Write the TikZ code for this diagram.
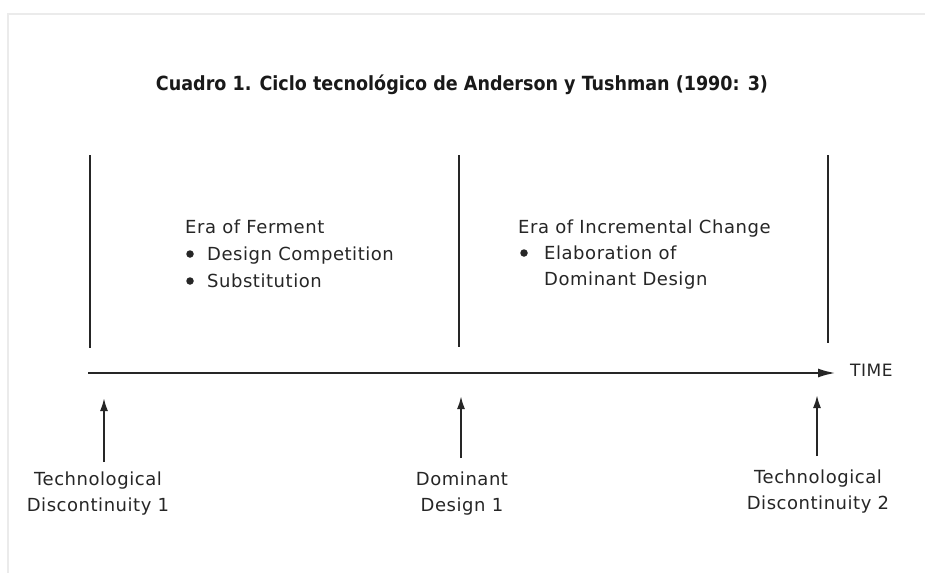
\documentclass[tikz,border=0pt]{standalone}
\usepackage{fontspec}
\setmainfont{DejaVu Sans}[LetterSpace=3]
\newfontfamily\titlefont{DejaVu Sans Condensed}
\usetikzlibrary{arrows.meta}
\begin{document}
\begin{tikzpicture}[x=1pt,y=-1pt,
  lbl/.style={font=\fontsize{18}{26}\selectfont, text=black!85, inner sep=0pt},
  bulletdot/.style={circle, fill=black!85, inner sep=0pt, minimum size=7.5pt},
  vline/.style={line width=2pt, black!85},
  uparrow/.style={line width=2pt, black!85, -{Latex[length=13pt,width=8pt]}},
  frame/.style={line width=1.5pt, black!8}]
\useasboundingbox (0,0) rectangle (925,573);
\fill[white] (0,0) rectangle (925,573);
\draw[frame] (8,573) -- (8,14) -- (925,14);
\node[inner sep=0pt, text=black!90, font=\titlefont\bfseries\fontsize{19.5}{22}\selectfont] (title) at (462,85) {Cuadro 1. Ciclo tecnológico de Anderson y Tushman (1990: 3)};
% vertical lines
\coordinate (v1t) at (90,155); \coordinate (v1b) at (90,348);
\coordinate (v2t) at (459,155); \coordinate (v2b) at (459,347);
\coordinate (v3t) at (828,155); \coordinate (v3b) at (828,343);
\draw[vline] (v1t) -- (v1b);
\draw[vline] (v2t) -- (v2b);
\draw[vline] (v3t) -- (v3b);
% time axis
\coordinate (axs) at (88,373);
\coordinate (axe) at (836,373);
\node[lbl, anchor=west, font=\fontsize{17}{20}\selectfont] (time) at (850,370) {TIME};
\draw[line width=2.5pt, black!85, -{Latex[length=18pt,width=9pt]}] (axs) -- (axe);
% up arrows
\coordinate (a1) at (104,462); \coordinate (a1t) at (104,398);
\coordinate (a2) at (461,458); \coordinate (a2t) at (461,396);
\coordinate (a3) at (817,456); \coordinate (a3t) at (817,395);
\draw[uparrow] (a1) -- (a1t);
\draw[uparrow] (a2) -- (a2t);
\draw[uparrow] (a3) -- (a3t);
% bottom labels
\node[lbl, align=center] (td1) at (98,494) {Technological\\Discontinuity 1};
\node[lbl, align=center] (dd1) at (462,494) {Dominant\\Design 1};
\node[lbl, align=center] (td2) at (818,492) {Technological\\Discontinuity 2};
% era texts
\node[lbl, anchor=base west] (ef) at (185,233) {Era of Ferment};
\node[bulletdot] (b1) at (190,254) {};
\node[lbl, anchor=base west] (ef1) at (207,260) {Design Competition};
\node[bulletdot] (b2) at (190,281) {};
\node[lbl, anchor=base west] (ef2) at (207,287) {Substitution};
\node[lbl, anchor=base west] (ei) at (518,233) {Era of Incremental Change};
\node[bulletdot] (b3) at (524,253) {};
\node[lbl, anchor=base west] (ei1) at (544,259) {Elaboration of};
\node[lbl, anchor=base west] (ei2) at (544,285) {Dominant Design};
\end{tikzpicture}
\end{document}
